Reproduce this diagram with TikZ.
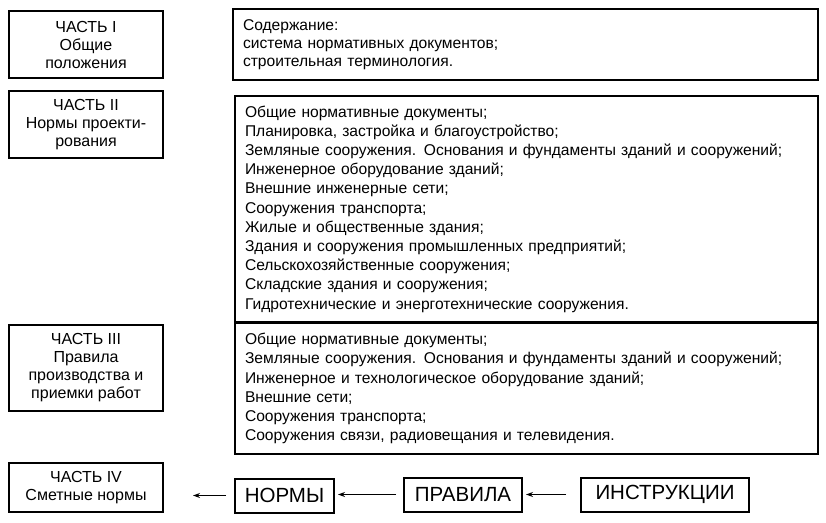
\documentclass[tikz,border=0pt]{standalone}
\usepackage{fontspec}
\setmainfont{Liberation Sans}
\usepackage{tikz}
\usetikzlibrary{arrows.meta, positioning}

\begin{document}
\begin{tikzpicture}[x=1pt, y=-1pt,
      part/.style={rectangle, draw, line width=2pt, minimum width=154pt,
                   align=center, font=\fontsize{16}{18}\selectfont},
      list/.style={rectangle, draw, line width=2pt, text width=563pt,
                   inner sep=10pt, align=left, font=\fontsize{15.6}{19.2}\selectfont},
      doc/.style={rectangle, draw, line width=2pt, minimum height=34pt,
                  font=\fontsize{20.5}{24}\selectfont},
      arr/.style={-{Stealth[length=7pt, width=5pt]}, line width=0.9pt}]
      \useasboundingbox (0,0) rectangle (826,522);
      % left column
      \node[part, minimum height=67pt] (p1) at (86,44.5) {ЧАСТЬ I\\ Общие\\ положения};
      \node[part, minimum height=67pt] (p2) at (86,124.5) {ЧАСТЬ II\\ Нормы проекти-\\ рования};
      \node[part, minimum height=86pt] (p3) at (86,367.5)
        {ЧАСТЬ III\\ Правила\\ производства и\\ приемки работ};
      \node[part, minimum height=49pt] (p4) at (86,487.5) {ЧАСТЬ IV\\ Сметные нормы};
      % right column
      \node[list, minimum height=67pt, text width=565pt,
            font=\fontsize{15.6}{18}\selectfont] (c1) at (525.5,44.5)
        {Содержание:\\ система нормативных документов;\\ строительная терминология.};
      \node[list, minimum height=223pt] (c2) at (526.5,209)
        {Общие нормативные документы;\\
         Планировка, застройка и благоустройство;\\
         Земляные сооружения. Основания и фундаменты зданий и сооружений;\\
         Инженерное оборудование зданий;\\
         Внешние инженерные сети;\\
         Сооружения транспорта;\\
         Жилые и общественные здания;\\
         Здания и сооружения промышленных предприятий;\\
         Сельскохозяйственные сооружения;\\
         Складские здания и сооружения;\\
         Гидротехнические и энерготехнические сооружения.};
      \node[list, minimum height=127pt] (c3) at (526.5,388.5)
        {Общие нормативные документы;\\
         Земляные сооружения. Основания и фундаменты зданий и сооружений;\\
         Инженерное и технологическое оборудование зданий;\\
         Внешние сети;\\
         Сооружения транспорта;\\
         Сооружения связи, радиовещания и телевидения.};
      % bottom row
      \node[doc, minimum width=99pt] (norm) at (284.5,495.5) {НОРМЫ};
      \node[doc, minimum width=118pt] (rule) at (463,494.5) {ПРАВИЛА};
      \node[doc, minimum width=168pt] (instr) at (665,494.5) {ИНСТРУКЦИИ};
      \draw[arr, shorten <=8pt, shorten >=29pt] (norm) -- (norm -| p4.east);
      \draw[arr, shorten <=7pt, shorten >=3pt] (rule) -- (rule -| norm.east);
      \draw[arr, shorten <=14pt, shorten >=3pt] (instr) -- (instr -| rule.east);
    \end{tikzpicture}
\end{document}
